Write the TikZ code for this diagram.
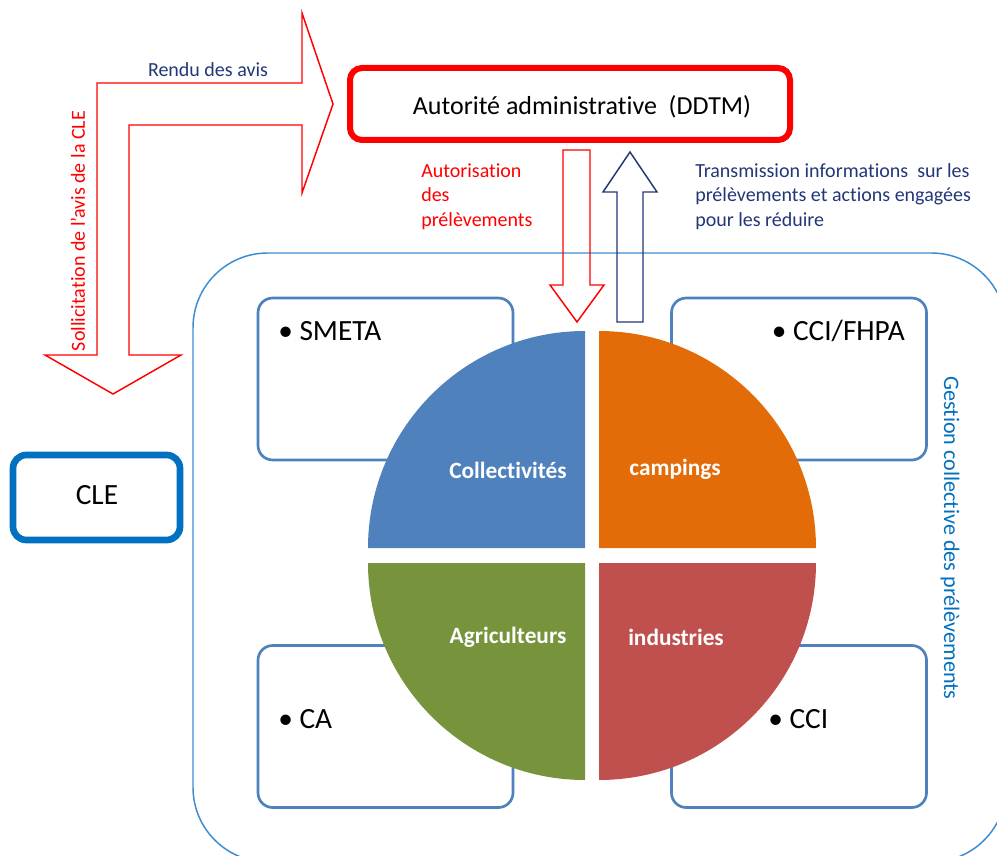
\documentclass[tikz,border=0pt]{standalone}
\usepackage{fontspec}
\setmainfont[Ligatures=NoCommon]{Carlito}
\definecolor{navyt}{RGB}{35,55,120}
\definecolor{boxblue}{RGB}{79,129,189}
\definecolor{bigblue}{RGB}{60,140,210}
\definecolor{cleblue}{RGB}{0,112,192}
\definecolor{pieblue}{RGB}{79,129,189}
\definecolor{pieorange}{RGB}{227,108,9}
\definecolor{piegreen}{RGB}{119,147,60}
\definecolor{piered}{RGB}{192,80,77}
\begin{document}
\begin{tikzpicture}[x=0.75pt,y=0.75pt,
  smallbox/.style={draw=boxblue,line width=2pt,rounded corners=11pt,inner sep=0pt,outer sep=0pt,minimum width=191.25pt,minimum height=121.5pt},
  lbl/.style={font=\fontsize{15}{18.4}\selectfont,inner sep=0pt},
  bigtxt/.style={font=\fontsize{22}{26}\selectfont,inner sep=0pt},
  pielbl/.style={text=white,font=\bfseries\fontsize{17.5}{20}\selectfont,inner sep=0pt},
  blockarrow/.style={line width=1.1pt,line join=miter}]
\useasboundingbox (0,0) rectangle (997,-856);
\clip (0,0) rectangle (997,-856);
\fill[white] (0,0) rectangle (997,-856);

% big collective box
\draw[bigblue,line width=1.1pt,rounded corners=56pt] (193,-253) rectangle (1006,-862);

% small boxes
\node[smallbox] (smeta) at (385.5,-379) {};
\node[smallbox] (ccifhpa) at (799,-379) {};
\node[smallbox] (ca) at (385.5,-726.5) {};
\node[smallbox] (cci) at (799,-726.5) {};
\node[bigtxt,anchor=base west] (tsmeta) at (278,-340) {\textbullet\ SMETA};
\node[bigtxt,anchor=base east] (tccifhpa) at (905,-340) {\textbullet\ CCI/FHPA};
\node[bigtxt,anchor=base west] (tca) at (278,-728) {\textbullet\ CA};
\node[bigtxt,anchor=base west] (tcci) at (768,-728) {\textbullet\ CCI};

% pie
\fill[pieblue] (585,-548) -- (368,-548) arc[start angle=180,end angle=90,radius=217] -- cycle;
\fill[pieorange] (599,-548) -- (599,-331) arc[start angle=90,end angle=0,radius=217] -- cycle;
\fill[piegreen] (585,-563) -- (368,-563) arc[start angle=180,end angle=270,radius=217] -- cycle;
\fill[piered] (599,-563) -- (816,-563) arc[start angle=0,end angle=-90,radius=217] -- cycle;
\node[pielbl] (coll) at (508,-470) {Collectivités};
\node[pielbl] (camp) at (675,-469) {campings};
\node[pielbl] (agri) at (508,-637) {Agriculteurs};
\node[pielbl] (indu) at (676,-637) {industries};

% Autorite box
\node[draw=red,line width=4.5pt,rounded corners=9pt,minimum width=330pt,minimum height=54pt,inner sep=0pt] (auto) at (570,-104) {};
\node[font=\fontsize{19.5}{23}\selectfont,inner sep=0pt] (tauto) at (582,-107) {Autorité administrative~ (DDTM)};

% CLE box
\node[draw=cleblue,line width=5pt,rounded corners=10pt,minimum width=125.25pt,minimum height=63.75pt,inner sep=0pt] (cle) at (96.5,-497.5) {};
\node[bigtxt] (tcle) at (97,-495) {CLE};

% bent arrow
\draw[red,blockarrow] (97,-355) -- (97,-83) -- (302,-83) -- (302,-13) -- (333,-104) -- (302,-193) -- (302,-125) -- (129,-125) -- (129,-355) -- (181,-355) -- (113,-394) -- (45,-355) -- cycle;
\node[lbl,text=navyt] (rendu) at (208,-70) {Rendu des avis};
\node[lbl,text=red,rotate=90] (solli) at (78,-231) {Sollicitation de l’avis de la CLE};

% down red arrow
\draw[red,blockarrow] (563,-150) -- (590,-150) -- (590,-285) -- (604,-285) -- (577,-322) -- (550,-285) -- (563,-285) -- cycle;
\node[lbl,text=red,align=left,anchor=north west] (autoris) at (421,-163) {Autorisation\\des\\prélèvements};

% up navy arrow
\draw[navyt,blockarrow] (617,-322) -- (617,-192) -- (603,-192) -- (630,-152) -- (657,-192) -- (643,-192) -- (643,-322) -- cycle;
\node[lbl,text=navyt,align=left,anchor=north west] (trans) at (695,-163) {Transmission informations~ sur les\\prélèvements et actions engagées\\pour les réduire};

% gestion label
\node[lbl,text=cleblue,rotate=-90,font=\fontsize{16.6}{19}\selectfont] (gest) at (950,-538) {Gestion collective des prélèvements};
\end{tikzpicture}
\end{document}
